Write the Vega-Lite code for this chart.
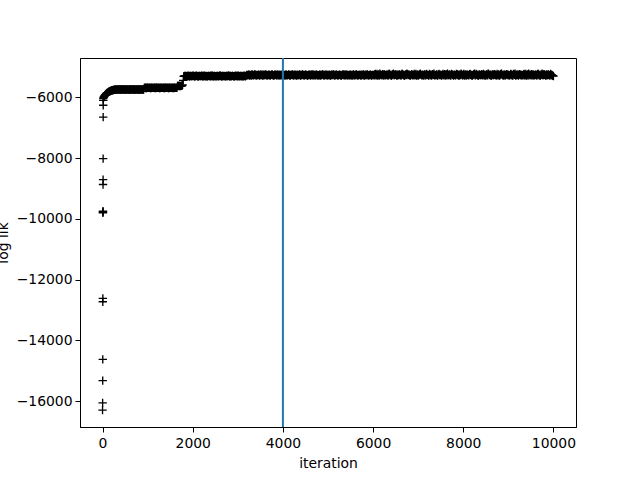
{
"$schema": "https://vega.github.io/schema/vega-lite/v6.json",
"width": 496, "height": 369,
"autosize": {"type": "none"},
"padding": {"left": 80, "top": 58, "right": 64, "bottom": 53},
"background": "white",
"config": {
 "view": {"stroke": "black", "strokeWidth": 1},
 "axis": {"grid": false, "domainColor": "black", "domainWidth": 1, "tickColor": "black", "tickWidth": 1, "tickSize": 5, "labelColor": "black", "labelFont": "DejaVu Sans", "labelFontSize": 13.9, "titleFont": "DejaVu Sans", "titleFontSize": 13.9, "titleFontWeight": "normal", "titleColor": "black"}
},
"datasets": {
"pts": [
{"i":0,"v":-16300},{"i":2,"v":-16060},{"i":4,"v":-15330},{"i":5,"v":-14630},{"i":6,"v":-12730},{"i":7,"v":-12620},{"i":8,"v":-9800},{"i":9,"v":-9775},{"i":10,"v":-9750},{"i":11,"v":-8870},{"i":12,"v":-8710},{"i":13,"v":-8020},{"i":14,"v":-6650},{"i":15,"v":-6260},{"i":16,"v":-6100},
{"i":17,"v":-6040},{"i":25,"v":-6000},{"i":32,"v":-5980},{"i":40,"v":-5960},{"i":50,"v":-5940},{"i":60,"v":-5920},{"i":70,"v":-5902},{"i":80,"v":-5885},{"i":90,"v":-5870},{"i":100,"v":-5858},{"i":112,"v":-5843},{"i":125,"v":-5830},{"i":137,"v":-5818},{"i":150,"v":-5808},{"i":162,"v":-5798},{"i":175,"v":-5790},{"i":187,"v":-5783},{"i":200,"v":-5777},{"i":212,"v":-5770},{"i":225,"v":-5765},{"i":237,"v":-5760},{"i":250,"v":-5755},{"i":262,"v":-5751},{"i":275,"v":-5748},{"i":287,"v":-5745},{"i":300,"v":-5743},
{"i":325,"v":-5745},{"i":350,"v":-5740},{"i":375,"v":-5747},{"i":400,"v":-5741},{"i":425,"v":-5744},{"i":450,"v":-5739},{"i":475,"v":-5746},{"i":500,"v":-5742},{"i":525,"v":-5745},{"i":550,"v":-5740},{"i":575,"v":-5747},{"i":600,"v":-5741},{"i":625,"v":-5744},{"i":650,"v":-5739},{"i":675,"v":-5746},{"i":700,"v":-5742},{"i":725,"v":-5745},{"i":750,"v":-5740},{"i":775,"v":-5747},{"i":800,"v":-5741},{"i":825,"v":-5744},{"i":850,"v":-5739},{"i":875,"v":-5746},{"i":900,"v":-5738},
{"i":312,"v":-5741},{"i":337,"v":-5746},{"i":362,"v":-5738},{"i":387,"v":-5744},{"i":412,"v":-5741},{"i":437,"v":-5746},{"i":462,"v":-5738},{"i":487,"v":-5744},{"i":512,"v":-5741},{"i":537,"v":-5746},{"i":562,"v":-5738},{"i":587,"v":-5744},{"i":612,"v":-5741},{"i":637,"v":-5746},{"i":662,"v":-5738},{"i":687,"v":-5744},{"i":712,"v":-5741},{"i":737,"v":-5746},{"i":762,"v":-5738},{"i":787,"v":-5744},{"i":812,"v":-5741},{"i":837,"v":-5746},{"i":862,"v":-5738},{"i":887,"v":-5744},{"i":912,"v":-5741},
{"i":925,"v":-5690},{"i":950,"v":-5685},{"i":975,"v":-5692},{"i":1000,"v":-5686},{"i":1025,"v":-5689},{"i":1050,"v":-5684},{"i":1075,"v":-5691},{"i":1100,"v":-5687},{"i":1125,"v":-5690},{"i":1150,"v":-5685},{"i":1175,"v":-5692},{"i":1200,"v":-5686},{"i":1225,"v":-5689},{"i":1250,"v":-5684},{"i":1275,"v":-5691},{"i":1300,"v":-5687},{"i":1325,"v":-5690},{"i":1350,"v":-5685},{"i":1375,"v":-5692},{"i":1400,"v":-5686},{"i":1425,"v":-5689},{"i":1450,"v":-5684},{"i":1475,"v":-5691},{"i":1500,"v":-5687},{"i":1525,"v":-5690},{"i":1550,"v":-5685},{"i":1575,"v":-5692},{"i":1600,"v":-5686},{"i":1625,"v":-5689},{"i":1650,"v":-5684},
{"i":937,"v":-5687},{"i":962,"v":-5693},{"i":987,"v":-5683},{"i":1012,"v":-5689},{"i":1037,"v":-5687},{"i":1062,"v":-5693},{"i":1087,"v":-5683},{"i":1112,"v":-5689},{"i":1137,"v":-5687},{"i":1162,"v":-5693},{"i":1187,"v":-5683},{"i":1212,"v":-5689},{"i":1237,"v":-5687},{"i":1262,"v":-5693},{"i":1287,"v":-5683},{"i":1312,"v":-5689},{"i":1337,"v":-5687},{"i":1362,"v":-5693},{"i":1387,"v":-5683},{"i":1412,"v":-5689},{"i":1437,"v":-5687},{"i":1462,"v":-5693},{"i":1487,"v":-5683},{"i":1512,"v":-5689},{"i":1537,"v":-5687},{"i":1562,"v":-5693},{"i":1587,"v":-5683},{"i":1612,"v":-5689},{"i":1637,"v":-5687},{"i":1662,"v":-5626},
{"i":1675,"v":-5628},{"i":1687,"v":-5625},{"i":1700,"v":-5622},{"i":1712,"v":-5627},{"i":1725,"v":-5630},{"i":1737,"v":-5624},{"i":1750,"v":-5620},{"i":1762,"v":-5618},{"i":1775,"v":-5590},{"i":1790,"v":-5440},{"i":1800,"v":-5310},
{"i":1825,"v":-5298},{"i":1850,"v":-5306},{"i":1875,"v":-5292},{"i":1900,"v":-5303},{"i":1925,"v":-5310},{"i":1950,"v":-5295},{"i":1975,"v":-5301},{"i":2000,"v":-5289},
{"i":2025,"v":-5298},{"i":2050,"v":-5306},{"i":2075,"v":-5292},{"i":2100,"v":-5303},{"i":2125,"v":-5310},{"i":2150,"v":-5295},{"i":2175,"v":-5301},{"i":2200,"v":-5289},
{"i":2225,"v":-5298},{"i":2250,"v":-5306},{"i":2275,"v":-5292},{"i":2300,"v":-5303},{"i":2325,"v":-5310},{"i":2350,"v":-5295},{"i":2375,"v":-5301},{"i":2400,"v":-5289},
{"i":2425,"v":-5298},{"i":2450,"v":-5306},{"i":2475,"v":-5292},{"i":2500,"v":-5303},{"i":2525,"v":-5310},{"i":2550,"v":-5295},{"i":2575,"v":-5301},{"i":2600,"v":-5289},
{"i":2625,"v":-5298},{"i":2650,"v":-5306},{"i":2675,"v":-5292},{"i":2700,"v":-5303},{"i":2725,"v":-5310},{"i":2750,"v":-5295},{"i":2775,"v":-5301},{"i":2800,"v":-5289},
{"i":2825,"v":-5298},{"i":2850,"v":-5306},{"i":2875,"v":-5292},{"i":2900,"v":-5303},{"i":2925,"v":-5310},{"i":2950,"v":-5295},{"i":2975,"v":-5301},{"i":3000,"v":-5289},
{"i":3025,"v":-5298},{"i":3050,"v":-5306},{"i":3075,"v":-5292},{"i":3100,"v":-5303},{"i":3125,"v":-5310},{"i":3150,"v":-5295},{"i":3175,"v":-5301},
{"i":1812,"v":-5302},{"i":1837,"v":-5294},{"i":1862,"v":-5308},{"i":1887,"v":-5297},{"i":1912,"v":-5291},{"i":1937,"v":-5305},{"i":1962,"v":-5299},
{"i":1987,"v":-5302},{"i":2012,"v":-5294},{"i":2037,"v":-5308},{"i":2062,"v":-5297},{"i":2087,"v":-5291},{"i":2112,"v":-5305},{"i":2137,"v":-5299},
{"i":2162,"v":-5302},{"i":2187,"v":-5294},{"i":2212,"v":-5308},{"i":2237,"v":-5297},{"i":2262,"v":-5291},{"i":2287,"v":-5305},{"i":2312,"v":-5299},
{"i":2337,"v":-5302},{"i":2362,"v":-5294},{"i":2387,"v":-5308},{"i":2412,"v":-5297},{"i":2437,"v":-5291},{"i":2462,"v":-5305},{"i":2487,"v":-5299},
{"i":2512,"v":-5302},{"i":2537,"v":-5294},{"i":2562,"v":-5308},{"i":2587,"v":-5297},{"i":2612,"v":-5291},{"i":2637,"v":-5305},{"i":2662,"v":-5299},
{"i":2687,"v":-5302},{"i":2712,"v":-5294},{"i":2737,"v":-5308},{"i":2762,"v":-5297},{"i":2787,"v":-5291},{"i":2812,"v":-5305},{"i":2837,"v":-5299},
{"i":2862,"v":-5302},{"i":2887,"v":-5294},{"i":2912,"v":-5308},{"i":2937,"v":-5297},{"i":2962,"v":-5291},{"i":2987,"v":-5305},{"i":3012,"v":-5299},
{"i":3037,"v":-5302},{"i":3062,"v":-5294},{"i":3087,"v":-5308},{"i":3112,"v":-5297},{"i":3137,"v":-5291},{"i":3162,"v":-5305},{"i":3187,"v":-5285},
{"i":3200,"v":-5262},{"i":3225,"v":-5275},{"i":3250,"v":-5251},{"i":3275,"v":-5268},{"i":3300,"v":-5283},{"i":3325,"v":-5257},{"i":3350,"v":-5270},{"i":3375,"v":-5246},{"i":3400,"v":-5279},{"i":3425,"v":-5264},
{"i":3450,"v":-5262},{"i":3475,"v":-5275},{"i":3500,"v":-5251},{"i":3525,"v":-5268},{"i":3550,"v":-5283},{"i":3575,"v":-5257},{"i":3600,"v":-5270},{"i":3625,"v":-5246},{"i":3650,"v":-5279},{"i":3675,"v":-5264},
{"i":3700,"v":-5262},{"i":3725,"v":-5275},{"i":3750,"v":-5251},{"i":3775,"v":-5268},{"i":3800,"v":-5283},{"i":3825,"v":-5257},{"i":3850,"v":-5270},{"i":3875,"v":-5246},{"i":3900,"v":-5279},{"i":3925,"v":-5264},
{"i":3950,"v":-5262},{"i":3975,"v":-5275},{"i":4000,"v":-5251},{"i":4025,"v":-5268},{"i":4050,"v":-5283},{"i":4075,"v":-5257},{"i":4100,"v":-5270},{"i":4125,"v":-5246},{"i":4150,"v":-5279},{"i":4175,"v":-5264},
{"i":4200,"v":-5262},{"i":4225,"v":-5275},{"i":4250,"v":-5251},{"i":4275,"v":-5268},{"i":4300,"v":-5283},{"i":4325,"v":-5257},{"i":4350,"v":-5270},{"i":4375,"v":-5246},{"i":4400,"v":-5279},{"i":4425,"v":-5264},
{"i":4450,"v":-5262},{"i":4475,"v":-5275},{"i":4500,"v":-5251},{"i":4525,"v":-5268},{"i":4550,"v":-5283},{"i":4575,"v":-5257},{"i":4600,"v":-5270},{"i":4625,"v":-5246},{"i":4650,"v":-5279},{"i":4675,"v":-5264},
{"i":4700,"v":-5262},{"i":4725,"v":-5275},{"i":4750,"v":-5251},{"i":4775,"v":-5268},{"i":4800,"v":-5283},{"i":4825,"v":-5257},{"i":4850,"v":-5270},{"i":4875,"v":-5246},{"i":4900,"v":-5279},{"i":4925,"v":-5264},
{"i":4950,"v":-5262},{"i":4975,"v":-5275},{"i":5000,"v":-5251},{"i":5025,"v":-5268},{"i":5050,"v":-5283},{"i":5075,"v":-5257},{"i":5100,"v":-5270},{"i":5125,"v":-5246},{"i":5150,"v":-5279},{"i":5175,"v":-5264},
{"i":5200,"v":-5262},{"i":5225,"v":-5275},{"i":5250,"v":-5251},{"i":5275,"v":-5268},{"i":5300,"v":-5283},{"i":5325,"v":-5257},{"i":5350,"v":-5270},{"i":5375,"v":-5246},{"i":5400,"v":-5279},{"i":5425,"v":-5264},
{"i":5450,"v":-5262},{"i":5475,"v":-5275},{"i":5500,"v":-5251},{"i":5525,"v":-5268},{"i":5550,"v":-5283},{"i":5575,"v":-5257},{"i":5600,"v":-5270},{"i":5625,"v":-5246},{"i":5650,"v":-5279},{"i":5675,"v":-5264},
{"i":5700,"v":-5262},{"i":5725,"v":-5275},{"i":5750,"v":-5251},{"i":5775,"v":-5268},{"i":5800,"v":-5283},{"i":5825,"v":-5257},{"i":5850,"v":-5270},{"i":5875,"v":-5246},{"i":5900,"v":-5279},{"i":5925,"v":-5264},
{"i":5950,"v":-5262},{"i":5975,"v":-5275},
{"i":3212,"v":-5270},{"i":3237,"v":-5255},{"i":3262,"v":-5281},{"i":3287,"v":-5261},{"i":3312,"v":-5248},{"i":3337,"v":-5276},{"i":3362,"v":-5266},{"i":3387,"v":-5253},{"i":3412,"v":-5272},
{"i":3437,"v":-5270},{"i":3462,"v":-5255},{"i":3487,"v":-5281},{"i":3512,"v":-5261},{"i":3537,"v":-5248},{"i":3562,"v":-5276},{"i":3587,"v":-5266},{"i":3612,"v":-5253},{"i":3637,"v":-5272},
{"i":3662,"v":-5270},{"i":3687,"v":-5255},{"i":3712,"v":-5281},{"i":3737,"v":-5261},{"i":3762,"v":-5248},{"i":3787,"v":-5276},{"i":3812,"v":-5266},{"i":3837,"v":-5253},{"i":3862,"v":-5272},
{"i":3887,"v":-5270},{"i":3912,"v":-5255},{"i":3937,"v":-5281},{"i":3962,"v":-5261},{"i":3987,"v":-5248},{"i":4012,"v":-5276},{"i":4037,"v":-5266},{"i":4062,"v":-5253},{"i":4087,"v":-5272},
{"i":4112,"v":-5270},{"i":4137,"v":-5255},{"i":4162,"v":-5281},{"i":4187,"v":-5261},{"i":4212,"v":-5248},{"i":4237,"v":-5276},{"i":4262,"v":-5266},{"i":4287,"v":-5253},{"i":4312,"v":-5272},
{"i":4337,"v":-5270},{"i":4362,"v":-5255},{"i":4387,"v":-5281},{"i":4412,"v":-5261},{"i":4437,"v":-5248},{"i":4462,"v":-5276},{"i":4487,"v":-5266},{"i":4512,"v":-5253},{"i":4537,"v":-5272},
{"i":4562,"v":-5270},{"i":4587,"v":-5255},{"i":4612,"v":-5281},{"i":4637,"v":-5261},{"i":4662,"v":-5248},{"i":4687,"v":-5276},{"i":4712,"v":-5266},{"i":4737,"v":-5253},{"i":4762,"v":-5272},
{"i":4787,"v":-5270},{"i":4812,"v":-5255},{"i":4837,"v":-5281},{"i":4862,"v":-5261},{"i":4887,"v":-5248},{"i":4912,"v":-5276},{"i":4937,"v":-5266},{"i":4962,"v":-5253},{"i":4987,"v":-5272},
{"i":5012,"v":-5270},{"i":5037,"v":-5255},{"i":5062,"v":-5281},{"i":5087,"v":-5261},{"i":5112,"v":-5248},{"i":5137,"v":-5276},{"i":5162,"v":-5266},{"i":5187,"v":-5253},{"i":5212,"v":-5272},
{"i":5237,"v":-5270},{"i":5262,"v":-5255},{"i":5287,"v":-5281},{"i":5312,"v":-5261},{"i":5337,"v":-5248},{"i":5362,"v":-5276},{"i":5387,"v":-5266},{"i":5412,"v":-5253},{"i":5437,"v":-5272},
{"i":5462,"v":-5270},{"i":5487,"v":-5255},{"i":5512,"v":-5281},{"i":5537,"v":-5261},{"i":5562,"v":-5248},{"i":5587,"v":-5276},{"i":5612,"v":-5266},{"i":5637,"v":-5253},{"i":5662,"v":-5272},
{"i":5687,"v":-5270},{"i":5712,"v":-5255},{"i":5737,"v":-5281},{"i":5762,"v":-5261},{"i":5787,"v":-5248},{"i":5812,"v":-5276},{"i":5837,"v":-5266},{"i":5862,"v":-5253},{"i":5887,"v":-5272},
{"i":5912,"v":-5270},{"i":5937,"v":-5255},{"i":5962,"v":-5281},{"i":5987,"v":-5261},
{"i":6000,"v":-5260},{"i":6025,"v":-5274},{"i":6050,"v":-5232},{"i":6075,"v":-5266},{"i":6100,"v":-5281},{"i":6125,"v":-5250},{"i":6150,"v":-5224},{"i":6175,"v":-5270},{"i":6200,"v":-5255},{"i":6225,"v":-5285},{"i":6250,"v":-5242},{"i":6275,"v":-5263},
{"i":6300,"v":-5260},{"i":6325,"v":-5274},{"i":6350,"v":-5232},{"i":6375,"v":-5266},{"i":6400,"v":-5281},{"i":6425,"v":-5250},{"i":6450,"v":-5224},{"i":6475,"v":-5270},{"i":6500,"v":-5255},{"i":6525,"v":-5285},{"i":6550,"v":-5242},{"i":6575,"v":-5263},
{"i":6600,"v":-5260},{"i":6625,"v":-5274},{"i":6650,"v":-5232},{"i":6675,"v":-5266},{"i":6700,"v":-5281},{"i":6725,"v":-5250},{"i":6750,"v":-5224},{"i":6775,"v":-5270},{"i":6800,"v":-5255},{"i":6825,"v":-5285},{"i":6850,"v":-5242},{"i":6875,"v":-5263},
{"i":6900,"v":-5260},{"i":6925,"v":-5274},{"i":6950,"v":-5232},{"i":6975,"v":-5266},{"i":7000,"v":-5281},{"i":7025,"v":-5250},{"i":7050,"v":-5224},{"i":7075,"v":-5270},{"i":7100,"v":-5255},{"i":7125,"v":-5285},{"i":7150,"v":-5242},{"i":7175,"v":-5263},
{"i":7200,"v":-5260},{"i":7225,"v":-5274},{"i":7250,"v":-5232},{"i":7275,"v":-5266},{"i":7300,"v":-5281},{"i":7325,"v":-5250},{"i":7350,"v":-5224},{"i":7375,"v":-5270},{"i":7400,"v":-5255},{"i":7425,"v":-5285},{"i":7450,"v":-5242},{"i":7475,"v":-5263},
{"i":7500,"v":-5260},{"i":7525,"v":-5274},{"i":7550,"v":-5232},{"i":7575,"v":-5266},{"i":7600,"v":-5281},{"i":7625,"v":-5250},{"i":7650,"v":-5224},{"i":7675,"v":-5270},{"i":7700,"v":-5255},{"i":7725,"v":-5285},{"i":7750,"v":-5242},{"i":7775,"v":-5263},
{"i":7800,"v":-5260},{"i":7825,"v":-5274},{"i":7850,"v":-5232},{"i":7875,"v":-5266},{"i":7900,"v":-5281},{"i":7925,"v":-5250},{"i":7950,"v":-5224},{"i":7975,"v":-5270},{"i":8000,"v":-5255},{"i":8025,"v":-5285},{"i":8050,"v":-5242},{"i":8075,"v":-5263},
{"i":8100,"v":-5260},{"i":8125,"v":-5274},{"i":8150,"v":-5232},{"i":8175,"v":-5266},{"i":8200,"v":-5281},{"i":8225,"v":-5250},{"i":8250,"v":-5224},{"i":8275,"v":-5270},{"i":8300,"v":-5255},{"i":8325,"v":-5285},{"i":8350,"v":-5242},{"i":8375,"v":-5263},
{"i":8400,"v":-5260},{"i":8425,"v":-5274},{"i":8450,"v":-5232},{"i":8475,"v":-5266},{"i":8500,"v":-5281},{"i":8525,"v":-5250},{"i":8550,"v":-5224},{"i":8575,"v":-5270},{"i":8600,"v":-5255},{"i":8625,"v":-5285},{"i":8650,"v":-5242},{"i":8675,"v":-5263},
{"i":8700,"v":-5260},{"i":8725,"v":-5274},{"i":8750,"v":-5232},{"i":8775,"v":-5266},{"i":8800,"v":-5281},{"i":8825,"v":-5250},{"i":8850,"v":-5224},{"i":8875,"v":-5270},{"i":8900,"v":-5255},{"i":8925,"v":-5285},{"i":8950,"v":-5242},{"i":8975,"v":-5263},
{"i":9000,"v":-5260},{"i":9025,"v":-5274},{"i":9050,"v":-5232},{"i":9075,"v":-5266},{"i":9100,"v":-5281},{"i":9125,"v":-5250},{"i":9150,"v":-5224},{"i":9175,"v":-5270},{"i":9200,"v":-5255},{"i":9225,"v":-5285},{"i":9250,"v":-5242},{"i":9275,"v":-5263},
{"i":9300,"v":-5260},{"i":9325,"v":-5274},{"i":9350,"v":-5232},{"i":9375,"v":-5266},{"i":9400,"v":-5281},{"i":9425,"v":-5250},{"i":9450,"v":-5224},{"i":9475,"v":-5270},{"i":9500,"v":-5255},{"i":9525,"v":-5285},{"i":9550,"v":-5242},{"i":9575,"v":-5263},
{"i":9600,"v":-5260},{"i":9625,"v":-5274},{"i":9650,"v":-5232},{"i":9675,"v":-5266},{"i":9700,"v":-5281},{"i":9725,"v":-5250},{"i":9750,"v":-5224},{"i":9775,"v":-5270},{"i":9800,"v":-5255},{"i":9825,"v":-5285},{"i":9850,"v":-5242},{"i":9875,"v":-5263},
{"i":9900,"v":-5260},{"i":9925,"v":-5274},{"i":9950,"v":-5266},{"i":9975,"v":-5281},{"i":10000,"v":-5300},
{"i":6012,"v":-5268},{"i":6037,"v":-5245},{"i":6062,"v":-5279},{"i":6087,"v":-5228},{"i":6112,"v":-5262},{"i":6137,"v":-5284},{"i":6162,"v":-5252},{"i":6187,"v":-5271},{"i":6212,"v":-5236},{"i":6237,"v":-5258},{"i":6262,"v":-5276},
{"i":6287,"v":-5268},{"i":6312,"v":-5245},{"i":6337,"v":-5279},{"i":6362,"v":-5228},{"i":6387,"v":-5262},{"i":6412,"v":-5284},{"i":6437,"v":-5252},{"i":6462,"v":-5271},{"i":6487,"v":-5236},{"i":6512,"v":-5258},{"i":6537,"v":-5276},
{"i":6562,"v":-5268},{"i":6587,"v":-5245},{"i":6612,"v":-5279},{"i":6637,"v":-5228},{"i":6662,"v":-5262},{"i":6687,"v":-5284},{"i":6712,"v":-5252},{"i":6737,"v":-5271},{"i":6762,"v":-5236},{"i":6787,"v":-5258},{"i":6812,"v":-5276},
{"i":6837,"v":-5268},{"i":6862,"v":-5245},{"i":6887,"v":-5279},{"i":6912,"v":-5228},{"i":6937,"v":-5262},{"i":6962,"v":-5284},{"i":6987,"v":-5252},{"i":7012,"v":-5271},{"i":7037,"v":-5236},{"i":7062,"v":-5258},{"i":7087,"v":-5276},
{"i":7112,"v":-5268},{"i":7137,"v":-5245},{"i":7162,"v":-5279},{"i":7187,"v":-5228},{"i":7212,"v":-5262},{"i":7237,"v":-5284},{"i":7262,"v":-5252},{"i":7287,"v":-5271},{"i":7312,"v":-5236},{"i":7337,"v":-5258},{"i":7362,"v":-5276},
{"i":7387,"v":-5268},{"i":7412,"v":-5245},{"i":7437,"v":-5279},{"i":7462,"v":-5228},{"i":7487,"v":-5262},{"i":7512,"v":-5284},{"i":7537,"v":-5252},{"i":7562,"v":-5271},{"i":7587,"v":-5236},{"i":7612,"v":-5258},{"i":7637,"v":-5276},
{"i":7662,"v":-5268},{"i":7687,"v":-5245},{"i":7712,"v":-5279},{"i":7737,"v":-5228},{"i":7762,"v":-5262},{"i":7787,"v":-5284},{"i":7812,"v":-5252},{"i":7837,"v":-5271},{"i":7862,"v":-5236},{"i":7887,"v":-5258},{"i":7912,"v":-5276},
{"i":7937,"v":-5268},{"i":7962,"v":-5245},{"i":7987,"v":-5279},{"i":8012,"v":-5228},{"i":8037,"v":-5262},{"i":8062,"v":-5284},{"i":8087,"v":-5252},{"i":8112,"v":-5271},{"i":8137,"v":-5236},{"i":8162,"v":-5258},{"i":8187,"v":-5276},
{"i":8212,"v":-5268},{"i":8237,"v":-5245},{"i":8262,"v":-5279},{"i":8287,"v":-5228},{"i":8312,"v":-5262},{"i":8337,"v":-5284},{"i":8362,"v":-5252},{"i":8387,"v":-5271},{"i":8412,"v":-5236},{"i":8437,"v":-5258},{"i":8462,"v":-5276},
{"i":8487,"v":-5268},{"i":8512,"v":-5245},{"i":8537,"v":-5279},{"i":8562,"v":-5228},{"i":8587,"v":-5262},{"i":8612,"v":-5284},{"i":8637,"v":-5252},{"i":8662,"v":-5271},{"i":8687,"v":-5236},{"i":8712,"v":-5258},{"i":8737,"v":-5276},
{"i":8762,"v":-5268},{"i":8787,"v":-5245},{"i":8812,"v":-5279},{"i":8837,"v":-5228},{"i":8862,"v":-5262},{"i":8887,"v":-5284},{"i":8912,"v":-5252},{"i":8937,"v":-5271},{"i":8962,"v":-5236},{"i":8987,"v":-5258},{"i":9012,"v":-5276},
{"i":9037,"v":-5268},{"i":9062,"v":-5245},{"i":9087,"v":-5279},{"i":9112,"v":-5228},{"i":9137,"v":-5262},{"i":9162,"v":-5284},{"i":9187,"v":-5252},{"i":9212,"v":-5271},{"i":9237,"v":-5236},{"i":9262,"v":-5258},{"i":9287,"v":-5276},
{"i":9312,"v":-5268},{"i":9337,"v":-5245},{"i":9362,"v":-5279},{"i":9387,"v":-5228},{"i":9412,"v":-5262},{"i":9437,"v":-5284},{"i":9462,"v":-5252},{"i":9487,"v":-5271},{"i":9512,"v":-5236},{"i":9537,"v":-5258},{"i":9562,"v":-5276},
{"i":9587,"v":-5268},{"i":9612,"v":-5245},{"i":9637,"v":-5279},{"i":9662,"v":-5228},{"i":9687,"v":-5262},{"i":9712,"v":-5284},{"i":9737,"v":-5252},{"i":9762,"v":-5271},{"i":9787,"v":-5236},{"i":9812,"v":-5258},{"i":9837,"v":-5276},
{"i":9862,"v":-5268},{"i":9887,"v":-5245},{"i":9912,"v":-5279},{"i":9937,"v":-5228},{"i":9962,"v":-5262},{"i":9987,"v":-5284}
],
"line": [{"i": 4000}]
},
"layer": [
 {
  "data": {"name": "pts"},
  "mark": {"type": "point", "shape": "M-1,0L1,0M0,-1L0,1", "filled": false, "stroke": "black", "strokeWidth": 1.33, "size": 70, "opacity": 1},
  "encoding": {
   "x": {"field": "i", "type": "quantitative", "scale": {"domain": [-500, 10500], "nice": false, "zero": false},
     "axis": {"title": "iteration", "values": [0, 2000, 4000, 6000, 8000, 10000], "format": "d", "labelPadding": 4, "titleBaseline": "alphabetic", "titleY": 40}},
   "y": {"field": "v", "type": "quantitative", "scale": {"domain": [-16855, -4705], "nice": false, "zero": false},
     "axis": {"title": "log lik", "values": [-16000, -14000, -12000, -10000, -8000, -6000], "format": "d", "labelPadding": 3, "titleAngle": -90, "titleAlign": "center", "titleBaseline": "alphabetic", "titleX": -72.7, "titleY": 184.5}}
  }
 },
 {
  "data": {"name": "line"},
  "mark": {"type": "rule", "color": "#1f77b4", "strokeWidth": 2},
  "encoding": {"x": {"field": "i", "type": "quantitative"}}
 }
]
}
